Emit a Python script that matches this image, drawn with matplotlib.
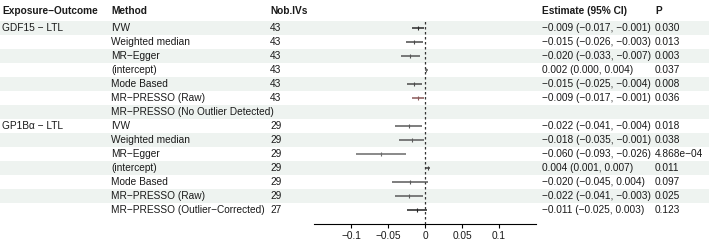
import numpy as np
import matplotlib.pyplot as plt
from matplotlib.patches import Rectangle

plt.rcParams['font.family'] = ['Liberation Sans', 'DejaVu Sans']

# Données du forest plot
exposure = ["GDF15 − LTL", "", "", "", "", "", "",
            "GP1Bα − LTL", "", "", "", "", "", ""]
methods = ["IVW", "Weighted median", "MR−Egger", "(intercept)", "Mode Based",
           "MR−PRESSO (Raw)", "MR−PRESSO (No Outlier Detected)",
           "IVW", "Weighted median", "MR−Egger", "(intercept)", "Mode Based",
           "MR−PRESSO (Raw)", "MR−PRESSO (Outlier−Corrected)"]
n_ivs = ["43", "43", "43", "43", "43", "43", "",
         "29", "29", "29", "29", "29", "29", "27"]
est = [-0.009, -0.015, -0.020, 0.002, -0.015, -0.009, np.nan,
       -0.022, -0.018, -0.060, 0.004, -0.020, -0.022, -0.011]
lo = [-0.017, -0.026, -0.033, 0.000, -0.025, -0.017, np.nan,
      -0.041, -0.035, -0.093, 0.001, -0.045, -0.041, -0.025]
hi = [-0.001, -0.003, -0.007, 0.004, -0.004, -0.001, np.nan,
      -0.004, -0.001, -0.026, 0.007, 0.004, -0.003, 0.003]
pvals = ["0.030", "0.013", "0.003", "0.037", "0.008", "0.036", "",
         "0.018", "0.038", "4.868e−04", "0.011", "0.097", "0.025", "0.123"]
colors = ["#2b2b2b", "#4a4a4a", "#555555", "#666666", "#4a4a4a", "#8a5a5a", "#444444",
          "#5a5a5a", "#5a5a5a", "#6a6a6a", "#444444", "#5a5a5a", "#5a5a5a", "#222222"]
xticks = [-0.1, -0.05, 0, 0.05, 0.1]
xtick_labels = ["−0.1", "−0.05", "0", "0.05", "0.1"]


def fmt(v):
    return f"{v:.3f}".replace("-", "−")


W, H = 709, 240
fig = plt.figure(figsize=(W / 100, H / 100), dpi=100)

# Fond : tableau en coordonnées pixels
bg = fig.add_axes([0, 0, 1, 1])
bg.set_xlim(0, W)
bg.set_ylim(H, 0)
bg.axis("off")

row_y0, row_h = 28, 14
n = len(methods)
fs = 7.3
txt = "#1a1a1a"

# Bandes alternées
for i in range(n):
    y = row_y0 + i * row_h
    if i % 2 == 0:
        bg.add_patch(Rectangle((0, y - row_h / 2), W, row_h,
                               facecolor="#eef3f0", edgecolor="none", zorder=0))

# En-têtes
cols = {"Exposure−Outcome": 2, "Method": 111, "Nob.IVs": 270,
        "Estimate (95% CI)": 542, "P": 655}
for lab, x in cols.items():
    bg.text(x, 11, lab, fontsize=fs, fontweight="bold", va="center", ha="left", color=txt)

# Lignes du tableau
for i in range(n):
    y = row_y0 + i * row_h
    bg.text(2, y, exposure[i], fontsize=fs, va="center", color=txt)
    bg.text(111, y, methods[i], fontsize=fs, va="center", color=txt)
    bg.text(270, y, n_ivs[i], fontsize=fs, va="center", color=txt)
    if not np.isnan(est[i]):
        s = f"{fmt(est[i])} ({fmt(lo[i])}, {fmt(hi[i])})"
        bg.text(542, y, s, fontsize=fs, va="center", color=txt)
    bg.text(655, y, pvals[i], fontsize=fs, va="center", color=txt)

# Panneau forest
x0, x1 = 314, 536
ax_top, ax_bot = 20, 224
ax = fig.add_axes([x0 / W, 1 - ax_bot / H, (x1 - x0) / W, (ax_bot - ax_top) / H])
ax.patch.set_alpha(0)
ax.set_xlim(-0.15, 0.15)
ax.set_ylim((ax_bot - row_y0) / row_h, (ax_top - row_y0) / row_h)
for s in ["top", "right", "left"]:
    ax.spines[s].set_visible(False)
ax.spines["bottom"].set_linewidth(0.8)
ax.set_yticks([])
ax.set_xticks(xticks)
ax.set_xticklabels(xtick_labels, fontsize=fs, color=txt)
ax.tick_params(axis="x", length=3, width=0.8, pad=2)

ax.axvline(0, color="#333333", linestyle=(0, (2, 2)), linewidth=0.9, zorder=1)

rows = np.arange(n)
for i in rows:
    if np.isnan(est[i]):
        continue
    ax.hlines(i, lo[i], hi[i], color=colors[i], linewidth=1.1, zorder=2)
    ax.plot(est[i], i, marker="|", markersize=2.5, markeredgewidth=0.8,
            color=colors[i], zorder=3)

fig.savefig("out.png", dpi=100)
